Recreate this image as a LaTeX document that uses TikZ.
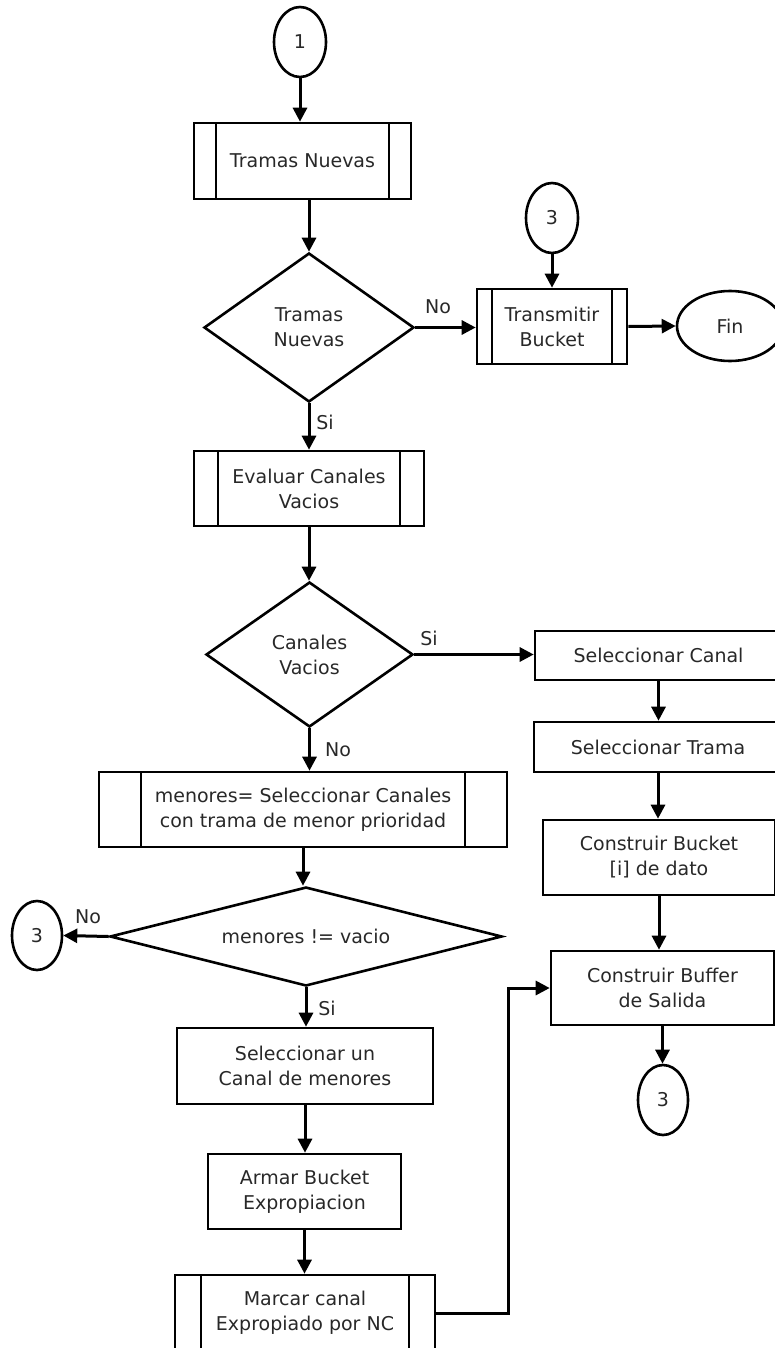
\documentclass[tikz,border=0pt]{standalone}
\usepackage{fontspec}
\setmainfont{DejaVu Sans}
\usetikzlibrary{arrows.meta,shapes.geometric}
\definecolor{txt}{RGB}{40,40,40}
\begin{document}
\begin{tikzpicture}[x=1pt,y=-1pt,
  every node/.style={font=\fontsize{19pt}{25pt}\selectfont, text=txt, inner sep=0pt, align=center},
  box/.style={draw, rectangle, line width=2.6pt},
  sub/.style={box, path picture={
      \draw[line width=2.6pt] ([xshift=#1]path picture bounding box.north west) -- ([xshift=#1]path picture bounding box.south west);
      \draw[line width=2.6pt] ([xshift=-#1]path picture bounding box.north east) -- ([xshift=-#1]path picture bounding box.south east);}},
  con/.style={draw, ellipse, line width=2.6pt},
  dec/.style={draw, diamond, line width=2.6pt},
  arr/.style={line width=3pt, -{Triangle[length=14pt,width=14pt]}}]
\useasboundingbox (0,0) rectangle (775,1348);

\node[con, minimum width=52pt, minimum height=70pt] (c1) at (300,42) {1};
\node[sub=22pt, minimum width=217pt, minimum height=76pt] (tn) at (302.5,161) {Tramas Nuevas};
\node[dec, minimum width=210pt, minimum height=149pt] (d1) at (309,327.5) {Tramas\\Nuevas};
\node[con, minimum width=52pt, minimum height=70pt] (c3a) at (552,218) {3};
\node[sub=15pt, minimum width=150pt, minimum height=75pt] (tb) at (552,326.5) {Transmitir\\Bucket};
\node[con, minimum width=106pt, minimum height=70pt] (fin) at (730,326) {Fin};
\node[sub=24pt, minimum width=230pt, minimum height=75pt] (ev) at (309,488.5) {Evaluar Canales\\Vacios};
\node[dec, minimum width=207pt, minimum height=145pt] (d2) at (309.5,654.5) {Canales\\Vacios};
\node[box, minimum width=247pt, minimum height=49pt] (sc) at (658.5,655.5) {Seleccionar Canal};
\node[box, minimum width=248pt, minimum height=50pt] (st) at (658,747) {Seleccionar Trama};
\node[box, minimum width=232pt, minimum height=75pt] (cb) at (659,857.5) {Construir Bucket\\{}[i] de dato};
\node[box, minimum width=223pt, minimum height=74pt] (bf) at (662.5,988) {Construir Buffer\\de Salida};
\node[con, minimum width=50pt, minimum height=70pt] (c3b) at (663,1100) {3};
\node[sub=42pt, minimum width=408pt, minimum height=75pt] (mn) at (303,809.5) {menores= Seleccionar Canales\\con trama de menor prioridad};
\node[dec, aspect=3.96, minimum width=392pt, minimum height=99pt] (d3) at (306,936.5) {menores != vacio};
\node[con, minimum width=50pt, minimum height=69pt] (c3c) at (37,935.5) {3};
\node[box, minimum width=256pt, minimum height=76pt] (su) at (305,1066) {Seleccionar un\\Canal de menores};
\node[box, minimum width=193pt, minimum height=75pt] (ab) at (304.5,1191.5) {Armar Bucket\\Expropiacion};
\node[sub=26pt, minimum width=260pt, minimum height=76pt] (mc) at (305,1313) {Marcar canal\\Expropiado por NC};

\node (l1) at (438,307) {No};
\node (l2) at (325,422) {Si};
\node (l3) at (429,638) {Si};
\node (l4) at (338,750) {No};
\node (l5) at (88,917) {No};
\node (l6) at (327,1008) {Si};

\draw[arr] (c1.south) -- (c1.south |- tn.north);
\draw[arr] (tn.south -| d1.north) -- (d1.north);
\draw[arr] (d1.east) -- (d1.east -| tb.west);
\draw[arr] (c3a.south) -- (tb.north);
\draw[arr] (tb.east) -- (fin.west);
\draw[arr] (d1.south) -- (d1.south |- ev.north);
\draw[arr] (ev.south) -- (ev.south |- d2.north);
\draw[arr] (d2.east) -- (d2.east -| sc.west);
\draw[arr] (sc.south) -- (sc.south |- st.north);
\draw[arr] (st.south) -- (st.south |- cb.north);
\draw[arr] (cb.south) -- (cb.south |- bf.north);
\draw[arr] (bf.south) -- (bf.south |- c3b.north);
\draw[arr] (d2.south) -- (d2.south |- mn.north);
\draw[arr] (mn.south) -- (mn.south |- d3.north);
\draw[arr] (d3.west) -- (c3c.east);
\draw[arr] (d3.south) -- (d3.south |- su.north);
\draw[arr] (su.south) -- (su.south |- ab.north);
\draw[arr] (ab.south) -- (ab.south |- mc.north);
\coordinate (k) at (508,988);
\draw[arr] (mc.east) -| (k) -- (bf.west);
\end{tikzpicture}
\end{document}
